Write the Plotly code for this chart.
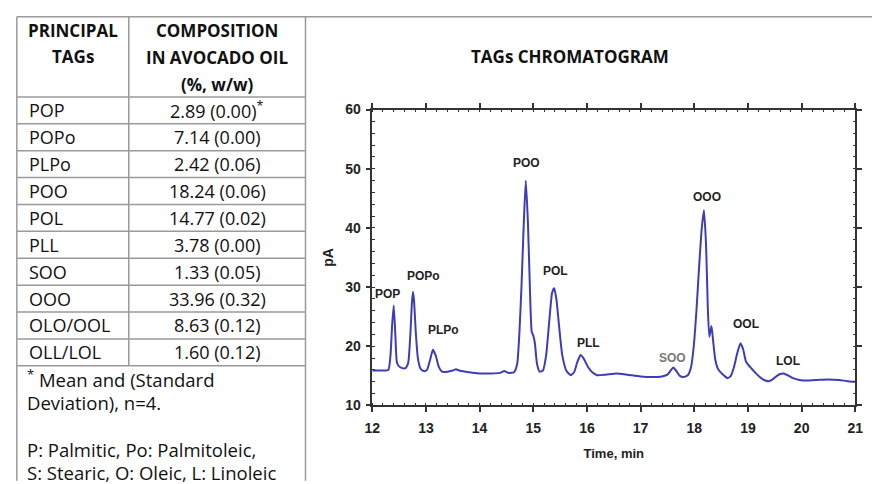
import plotly.graph_objects as go

W, H = 880, 484

# ---------------- data ----------------
tags = ["POP", "POPo", "PLPo", "POO", "POL", "PLL", "SOO", "OOO", "OLO/OOL", "OLL/LOL"]
composition = ["2.89 (0.00)<sup>*</sup>", "7.14 (0.00)", "2.42 (0.06)", "18.24 (0.06)", "14.77 (0.02)",
               "3.78 (0.00)", "1.33 (0.05)", "33.96 (0.32)", "8.63 (0.12)", "1.60 (0.12)"]
header_col1 = ["PRINCIPAL", "TAGs"]
header_col2 = ["COMPOSITION", "IN AVOCADO OIL", "(%, w/w)"]
footnotes = ["<sup>*</sup> Mean and (Standard", "Deviation), n=4.",
             "P: Palmitic, Po: Palmitoleic,", "S: Stearic, O: Oleic, L: Linoleic"]

x_ticks = [12, 13, 14, 15, 16, 17, 18, 19, 20, 21]
y_ticks = [10, 20, 30, 40, 50, 60]

time_min = [12.00, 12.20, 12.30, 12.34, 12.37, 12.40, 12.43, 12.46, 12.50, 12.56, 12.62, 12.67, 12.71,
            12.74, 12.76, 12.78, 12.81, 12.85, 12.90, 12.96, 13.02, 13.08, 13.13, 13.18, 13.24, 13.30,
            13.40, 13.50, 13.56, 13.62, 13.80, 14.00, 14.20, 14.38, 14.46, 14.54, 14.64, 14.70, 14.74,
            14.78, 14.82, 14.86, 14.90, 14.94, 14.97, 15.00, 15.03, 15.07, 15.12, 15.18, 15.24, 15.30,
            15.35, 15.39, 15.43, 15.48, 15.54, 15.62, 15.70, 15.76, 15.82, 15.88, 15.94, 16.02, 16.10,
            16.19, 16.35, 16.55, 16.75, 17.00, 17.20, 17.40, 17.50, 17.56, 17.61, 17.66, 17.73, 17.80,
            17.88, 17.94, 17.99, 18.04, 18.09, 18.14, 18.18, 18.22, 18.25, 18.28, 18.32, 18.35, 18.39,
            18.44, 18.50, 18.56, 18.62, 18.68, 18.74, 18.80, 18.86, 18.91, 18.96, 19.01, 19.07, 19.14,
            19.22, 19.30, 19.38, 19.46, 19.54, 19.60, 19.66, 19.74, 19.84, 19.96, 20.10, 20.30, 20.50,
            20.70, 20.85, 21.00]
signal_pA = [15.9, 15.9, 16.0, 18.5, 23.5, 26.9, 22.0, 17.2, 16.6, 16.3, 16.3, 17.2, 22.0,
             27.5, 29.2, 27.5, 22.5, 18.0, 16.2, 15.8, 16.0, 17.8, 19.4, 18.5, 16.5, 15.7,
             15.7, 15.9, 16.1, 15.9, 15.6, 15.4, 15.4, 15.5, 15.8, 15.5, 15.6, 17.0, 22.0,
             30.0, 40.0, 48.0, 41.0, 29.0, 22.5, 21.8, 20.5, 17.0, 15.7, 15.9, 18.5, 24.5,
             29.0, 29.8, 28.0, 23.5, 18.5, 15.8, 15.1, 15.6, 17.3, 18.5, 17.9, 16.5, 15.6,
             15.1, 15.2, 15.4, 15.2, 14.9, 14.8, 14.9, 15.2, 15.9, 16.4, 15.9, 15.0, 14.8,
             15.1, 16.5, 20.0, 26.0, 33.5, 40.0, 43.0, 37.0, 27.0, 21.6, 23.4, 21.0, 17.8,
             16.2, 15.5, 15.0, 14.6, 15.0, 16.5, 18.8, 20.5, 19.5, 17.5, 16.8, 16.2, 15.5,
             14.8, 14.3, 14.1, 14.4, 15.0, 15.3, 15.4, 15.1, 14.6, 14.3, 14.2, 14.3, 14.4,
             14.3, 14.1, 14.0]

peak_labels = ["POP", "POPo", "PLPo", "POO", "POL", "PLL", "SOO", "OOO", "OOL", "LOL"]
peak_label_x = [12.29, 12.95, 13.32, 14.87, 15.42, 16.02, 17.60, 18.23, 18.97, 19.75]
peak_label_y = [28.9, 31.9, 22.7, 51.0, 32.7, 20.5, 18.0, 45.3, 23.7, 17.5]
peak_label_colors = ["#222"] * 6 + ["#777"] + ["#222"] * 3

# ---------------- layout helpers ----------------
def px(x):
    return x / W

def py(y):
    return 1 - y / H

TABLE_FONT = "Open Sans"
CHART_FONT = "Liberation Sans"
BORDER = "#9a9a9a"

plot_left, plot_right, plot_top, plot_bottom = 371, 863, 105, 411

fig = go.Figure()
fig.add_trace(go.Scatter(x=time_min, y=signal_pA, mode="lines",
                         line=dict(color="#3d3db8", width=2, shape="spline", smoothing=0.5),
                         hoverinfo="skip", showlegend=False))

annotations = []
for lab, x, y, c in zip(peak_labels, peak_label_x, peak_label_y, peak_label_colors):
    annotations.append(dict(x=x, y=y, xref="x", yref="y", text=f"<b>{lab}</b>", showarrow=False,
                            font=dict(family=CHART_FONT, size=12, color=c)))

# table geometry
t_left, t_col, t_right, t_top = 9, 123, 303, 9
header_bottom = 92
row_h = 27.8

shapes = []
def hline(x0, x1, y, color=BORDER, w=1.5):
    shapes.append(dict(type="line", xref="paper", yref="paper", x0=px(x0), x1=px(x1), y0=py(y), y1=py(y),
                       line=dict(color=color, width=w)))

def vline(x, y0, y1, color=BORDER, w=1.5):
    shapes.append(dict(type="line", xref="paper", yref="paper", x0=px(x), x1=px(x), y0=py(y0), y1=py(y1),
                       line=dict(color=color, width=w)))

hline(t_left, W, t_top)
vline(t_left, t_top, H + 5)
vline(t_right, t_top, H + 5)
n = len(tags)
vline(t_col, t_top, header_bottom + n * row_h)
hline(t_left, t_right, header_bottom)
for i in range(n):
    hline(t_left, t_right, header_bottom + (i + 1) * row_h)

# header text
for i, s in enumerate(header_col1):
    annotations.append(dict(x=px((t_left + t_col) / 2), y=py(23 + 27.5 * i), xref="paper", yref="paper",
                            text=f"<b>{s}</b>", showarrow=False, xanchor="center", yanchor="middle",
                            font=dict(family=TABLE_FONT, size=17, color="#111")))
for i, s in enumerate(header_col2):
    annotations.append(dict(x=px((t_col + t_right) / 2), y=py(23 + 28 * i), xref="paper", yref="paper",
                            text=f"<b>{s}</b>", showarrow=False, xanchor="center", yanchor="middle",
                            font=dict(family=TABLE_FONT, size=17, color="#111")))
# rows
for i, (tg, cp) in enumerate(zip(tags, composition)):
    yc = header_bottom + (i + 0.5) * row_h
    annotations.append(dict(x=px(19), y=py(yc), xref="paper", yref="paper", text=tg, showarrow=False,
                            xanchor="left", yanchor="middle",
                            font=dict(family=TABLE_FONT, size=18, color="#111")))
    annotations.append(dict(x=px((t_col + t_right) / 2), y=py(yc), xref="paper", yref="paper", text=cp,
                            showarrow=False, xanchor="center", yanchor="middle",
                            font=dict(family=TABLE_FONT, size=18, color="#111")))
# footnotes
foot_y = [383, 408, 457, 480]
for s, yv in zip(footnotes, foot_y):
    annotations.append(dict(x=px(17), y=py(yv), xref="paper", yref="paper", text=s, showarrow=False,
                            xanchor="left", yanchor="middle",
                            font=dict(family=TABLE_FONT, size=18.5, color="#111")))

# chart title
annotations.append(dict(x=px(572), y=py(50), xref="paper", yref="paper", text="<b>TAGs CHROMATOGRAM</b>",
                        showarrow=False, xanchor="center", yanchor="middle",
                        font=dict(family=TABLE_FONT, size=17, color="#111")))

axis_common = dict(showline=True, linecolor="#333", linewidth=1.5, mirror="allticks",
                   ticks="outside", ticklen=5, tickwidth=1.5, tickcolor="#333",
                   showgrid=False, zeroline=False,
                   tickfont=dict(family=CHART_FONT, size=14, color="#222"))

fig.update_layout(
    width=W, height=H, margin=dict(l=0, r=0, t=0, b=0),
    paper_bgcolor="white", plot_bgcolor="white",
    xaxis=dict(domain=[px(plot_left), px(plot_right)], range=[12, 21],
               tickmode="array", tickvals=x_ticks, ticktext=[f"<b>{v}</b>" for v in x_ticks],
               ticklabelstandoff=4,
               minor=dict(dtick=0.2, ticks="inside", ticklen=3, tickcolor="#333", tickwidth=1),
               title=dict(text="<b>Time, min</b>", font=dict(family=CHART_FONT, size=13, color="#222"),
                          standoff=14),
               **axis_common),
    yaxis=dict(domain=[py(plot_bottom), py(plot_top)], range=[10, 60],
               tickmode="array", tickvals=y_ticks, ticktext=[f"<b>{v}</b>" for v in y_ticks],
               ticklabelstandoff=2,
               minor=dict(dtick=2, ticks="inside", ticklen=3, tickcolor="#333", tickwidth=1),
               title=dict(text="<b>pA</b>", font=dict(family=CHART_FONT, size=14, color="#222"),
                          standoff=8),
               **axis_common),
    shapes=shapes, annotations=annotations,
)

fig.write_html("out.html")
